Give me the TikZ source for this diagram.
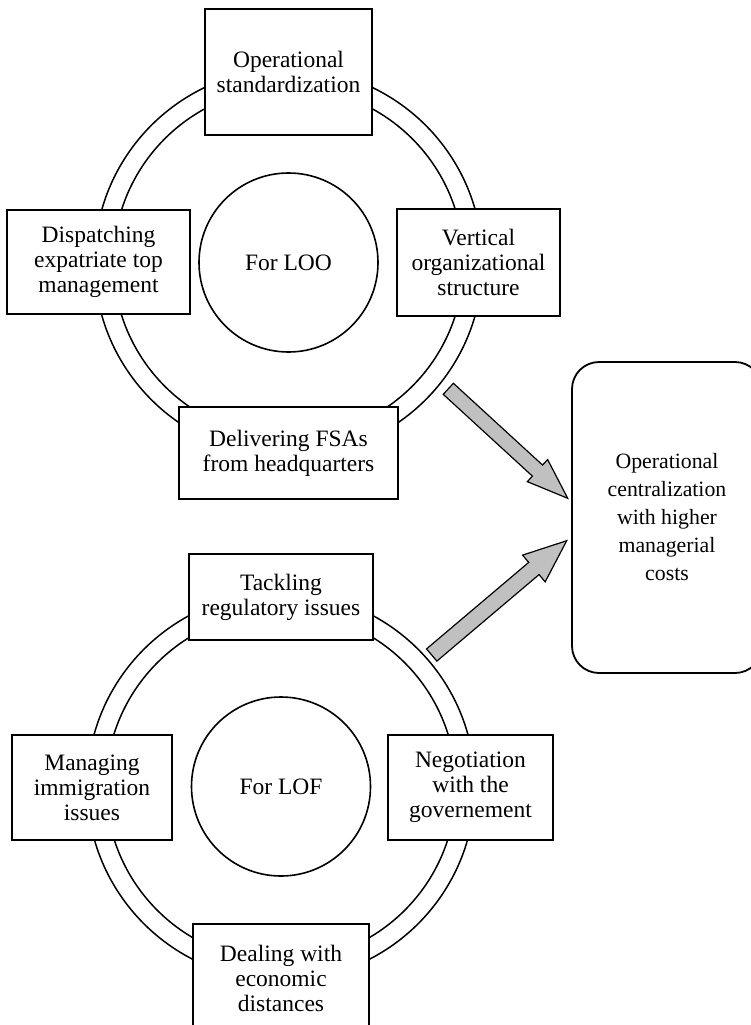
\documentclass[tikz,border=0pt]{standalone}
\usepackage{fontspec}
\setmainfont{Liberation Serif}
\usetikzlibrary{calc}
\definecolor{arrowgray}{RGB}{192,192,192}
\tikzset{
  ring/.style={draw=black, line width=1.5pt},
  boxnode/.style={draw=black, line width=2pt, fill=white, align=center, inner sep=0pt,
    font=\fontsize{23.5}{25}\selectfont},
  hub/.style={circle, draw=black, line width=1.6pt, fill=white, minimum size=179pt, inner sep=0pt,
    font=\fontsize{23.5}{25}\selectfont},
  result/.style={draw=black, line width=1.8pt, rounded corners=27pt, align=center, inner sep=0pt,
    font=\fontsize{21.8}{28}\selectfont},
  blockarrow/.style={draw=black, line width=1.2pt, fill=arrowgray, line join=miter},
}
\begin{document}
\begin{tikzpicture}[x=1pt,y=-1pt]
\clip (0,0) rectangle (751,1025);
\fill[white] (0,0) rectangle (751,1025);

% ---------- top cycle (LOO)
\coordinate (c1) at (288.5,262.5);
\draw[ring] (c1) circle[radius=194pt];
\draw[ring] (c1) circle[radius=175pt];
\node[hub] (loo) at (c1) {For LOO};
\node[boxnode, minimum width=167pt, minimum height=126pt] (opstd) at (288.5,72) {Operational\\standardization};
\node[boxnode, minimum width=183pt, minimum height=104pt] (disp) at (98.5,262) {Dispatching\\expatriate top\\management};
\node[boxnode, minimum width=163pt, minimum height=107pt] (vert) at (478.5,262.5) {Vertical\\organizational\\structure};
\node[boxnode, minimum width=219pt, minimum height=92pt] (deliv) at (288.5,453) {Delivering FSAs\\from headquarters};

% ---------- bottom cycle (LOF)
\coordinate (c2) at (281,786.5);
\draw[ring] (c2) circle[radius=194pt];
\draw[ring] (c2) circle[radius=175pt];
\node[hub] (lof) at (c2) {For LOF};
\node[boxnode, minimum width=184pt, minimum height=86pt] (tack) at (281,597) {Tackling\\regulatory issues};
\node[boxnode, minimum width=160pt, minimum height=105pt] (manag) at (92,787.5) {Managing\\immigration\\issues};
\node[boxnode, minimum width=165pt, minimum height=105pt] (nego) at (470.5,787.5) {Negotiation\\with the\\governement};
\node[boxnode, minimum width=176pt, minimum height=108pt] (deal) at (281,978) {Dealing with\\economic\\distances};

% ---------- result
\node[result, minimum width=190pt, minimum height=311pt] (res) at (667,517.5)
  {Operational\\centralization\\with higher\\managerial\\costs};

% ---------- block arrows
\coordinate (A1) at (448.3,388.8);
\coordinate (B1) at (567.7,498.3);
\coordinate (H1) at ($(B1)!41pt!(A1)$);
\draw[blockarrow] ($(A1)!7.5pt!90:(B1)$) -- ($(H1)!7.5pt!90:(B1)$) -- ($(H1)!15pt!90:(B1)$)
  -- (B1) -- ($(H1)!15pt!-90:(B1)$) -- ($(H1)!7.5pt!-90:(B1)$) -- ($(A1)!7.5pt!-90:(B1)$) -- cycle;

\coordinate (A2) at (431.7,655);
\coordinate (B2) at (566.7,540.7);
\coordinate (H2) at ($(B2)!43pt!(A2)$);
\draw[blockarrow] ($(A2)!8pt!90:(B2)$) -- ($(H2)!8pt!90:(B2)$) -- ($(H2)!17.5pt!90:(B2)$)
  -- (B2) -- ($(H2)!17.5pt!-90:(B2)$) -- ($(H2)!8pt!-90:(B2)$) -- ($(A2)!8pt!-90:(B2)$) -- cycle;
\end{tikzpicture}
\end{document}
